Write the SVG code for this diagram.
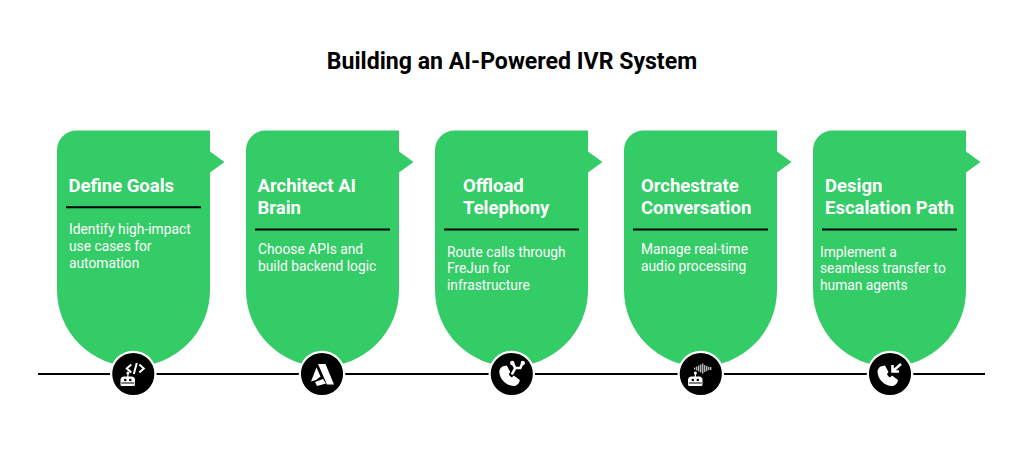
<svg xmlns="http://www.w3.org/2000/svg" xmlns:xlink="http://www.w3.org/1999/xlink" width="1024" height="463" viewBox="0 0 1024 463">
<style>
text{font-family:Roboto,"Liberation Sans",sans-serif}
.title{font-size:23.100px;font-weight:700;fill:#000}
.h{font-size:18.500px;font-weight:700;fill:#fff}
.b{font-size:13.800px;fill:#fff}
.card{fill:#33cc66}
.rule{stroke:#000;stroke-width:2}
.ring{fill:#000;stroke:#fff;stroke-width:1.5}
.i{fill:#fff}
.il{fill:none;stroke:#fff;stroke-width:2}
.thick{stroke-width:2.600}
.wave{stroke-width:1}
</style>
<defs>
<path id="card" class="card" d="M76.500 130.500H210V151.500L224.500 162L210 172.500V290A76.500 76.500 0 0 1 57 290V150A19.500 19.500 0 0 1 76.500 130.500Z"/>
<g id="bot">
<path class="i" d="M-9 2.500h7a3.500 3.500 0 0 1 3.500 3.500V10.500a1.500 1.500 0 0 1-1.500 1.500h-11.500a1.500 1.500 0 0 1-1.500-1.500V6A3.500 3.500 0 0 1-9 2.500Z" transform="translate(0.200 0)"/>
<rect x="-6" y="-0.500" width="1.200" height="4" class="i"/><circle cx="-5.400" cy="-1" r="1.500" class="i"/>
<circle cx="-8" cy="6" r="1.300" fill="#000"/><circle cx="-3" cy="6" r="1.300" fill="#000"/>
<rect x="-12" y="8.500" width="13" height="1" fill="#000"/>
</g>
<path id="phone" class="i" d="M-9.500-7.500L-5-8.500L-1.500-2L-3 0C-2.500 1.500-1.500 2.500 0 3.500L2 1.500L8 6C7.500 9.500 5 12 2 12C-5.500 12-12.500 5-12.500-2.500C-12.500-4.500-11-6.500-9.500-7.500Z"/>
</defs>
<text class="title" x="512" y="69" text-anchor="middle">Building an AI-Powered IVR System</text>
<g id="connectors">
<line x1="38" y1="374" x2="985" y2="374" stroke="#000" stroke-width="2"/>
</g>
<g id="node-1">
<use xlink:href="#card"/>
<text class="h" x="68.500" y="192">Define Goals</text>
<line class="rule" x1="66" y1="207.300" x2="201" y2="207.300"/>
<text class="b" x="69" y="234.300">Identify high-impact</text>
<text class="b" x="69" y="251">use cases for</text>
<text class="b" x="69" y="267.700">automation</text>
</g>
<g id="node-2">
<use xlink:href="#card" x="189"/>
<text class="h" x="257.500" y="192">Architect AI</text>
<text class="h" x="257.500" y="214">Brain</text>
<line class="rule" x1="255" y1="229.500" x2="390" y2="229.500"/>
<text class="b" x="258" y="254">Choose APIs and</text>
<text class="b" x="258" y="270.700">build backend logic</text>
</g>
<g id="node-3">
<use xlink:href="#card" x="378"/>
<text class="h" x="463" y="192">Offload</text>
<text class="h" x="463" y="214">Telephony</text>
<line class="rule" x1="444" y1="229.500" x2="579" y2="229.500"/>
<text class="b" x="447" y="256.500">Route calls through</text>
<text class="b" x="447" y="273">FreJun for</text>
<text class="b" x="447" y="289.500">infrastructure</text>
</g>
<g id="node-4">
<use xlink:href="#card" x="567"/>
<text class="h" x="641" y="192">Orchestrate</text>
<text class="h" x="641" y="214">Conversation</text>
<line class="rule" x1="633" y1="229.500" x2="768" y2="229.500"/>
<text class="b" x="641" y="254">Manage real-time</text>
<text class="b" x="641" y="270.700">audio processing</text>
</g>
<g id="node-5">
<use xlink:href="#card" x="756"/>
<text class="h" x="825" y="192">Design</text>
<text class="h" x="825" y="214">Escalation Path</text>
<line class="rule" x1="822" y1="229.500" x2="957" y2="229.500"/>
<text class="b" x="820" y="256.500">Implement a</text>
<text class="b" x="820" y="273">seamless transfer to</text>
<text class="b" x="820" y="289.500">human agents</text>
</g>
<g id="icon-1" transform="translate(133.300 374)">
<circle r="23.300" fill="#fff"/><circle r="21.800" class="ring"/>
<use xlink:href="#bot"/>
<path class="il" d="M-2-9.500L-6.500-5.500L-2-1.500M6-9.500L10.500-5.500L6-1.500M3.500-11L0.500 0"/>
</g>
<g id="icon-2" transform="translate(322 374)">
<circle r="23.300" fill="#fff"/><circle r="21.800" class="ring"/>
<path class="i" d="M-4-10H3.500L12 10.500H5ZM-5.500-6.500L-1.500 2.500L-6 6L-11 7.500ZM-7 8L1 5L4 9.500L-5 12Z"/>
</g>
<g id="icon-3" transform="translate(511.800 374)">
<circle r="23.300" fill="#fff"/><circle r="21.800" class="ring"/>
<use xlink:href="#phone"/>
<path class="il thick" d="M0 0.500L3.500-6L1-10.500M3.500-6H8.500L10.500-10.500"/>
<circle cx="0.500" cy="-11" r="2.200" class="i"/><circle cx="11" cy="-11" r="2.200" class="i"/>
</g>
<g id="icon-4" transform="translate(700.800 374)">
<circle r="23.300" fill="#fff"/><circle r="21.800" class="ring"/>
<use xlink:href="#bot"/>
<path class="il wave" d="M-6-6.500V-4.500M-4-7.500V-3.500M-2-8.500V-2.500M0-9.500V-1.500M2-10.500V-0.500M4-9V-2M6-8V-3M8-7V-4M10-7V-4"/>
</g>
<g id="icon-5" transform="translate(890 374)">
<circle r="23.300" fill="#fff"/><circle r="21.800" class="ring"/>
<use xlink:href="#phone"/>
<path class="il thick" d="M11-10L3-3M2.500-9V-2.500H9"/>
</g>
</svg>
